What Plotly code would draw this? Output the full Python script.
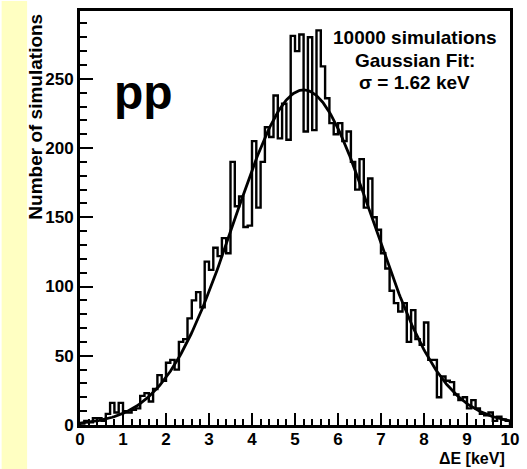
import numpy as np
import plotly.graph_objects as go

# ---- data ----
bin_low = 0.0
bin_high = 10.0
counts = [
    1, 3, 2, 5, 5, 3, 8, 16, 9, 16,
    10, 9, 11, 12, 21, 23, 17, 26, 36, 32,
    45, 47, 40, 60, 62, 77, 90, 96, 85, 118,
    112, 128, 122, 135, 124, 190, 158, 165, 143, 144,
    205, 157, 190, 215, 208, 238, 207, 232, 206, 281,
    270, 282, 212, 280, 213, 285, 259, 236, 218, 210,
    218, 205, 212, 190, 170, 192, 157, 178, 150, 141,
    124, 113, 97, 88, 82, 88, 60, 83, 62, 58,
    74, 47, 47, 20, 35, 32, 31, 22, 18, 20,
    12, 18, 12, 8, 7, 9, 3, 6, 4, 3,
]
fit_amplitude = 242.0
fit_mean = 5.2
fit_sigma = 1.62
x_ticks = [0, 1, 2, 3, 4, 5, 6, 7, 8, 9, 10]
y_ticks = [0, 50, 100, 150, 200, 250]
info_lines = ["10000 simulations", "Gaussian Fit:", "\u03c3 = 1.62 keV"]

# ---- geometry helpers ----
W, H = 527, 469
L, R, T, B = 80, 519, 10, 425


def px(xp):
    return (xp - L) / (R - L)


def py(yp):
    return (B - yp) / (B - T)


nb = len(counts)
edges = np.linspace(bin_low, bin_high, nb + 1)
xs = [edges[0]] + list(edges[:-1]) + [edges[-1], edges[-1]]
ys = [0] + list(counts) + [counts[-1], 0]

xf = np.linspace(bin_low, bin_high, 400)
yf = fit_amplitude * np.exp(-0.5 * ((xf - fit_mean) / fit_sigma) ** 2)

FONT = "Liberation Sans"

fig = go.Figure()
fig.add_trace(go.Scatter(x=xs, y=ys, mode="lines", line=dict(color="black", width=2.4, shape="hv"),
                         hoverinfo="skip", showlegend=False))
fig.add_trace(go.Scatter(x=xf, y=yf, mode="lines", line=dict(color="black", width=2.8),
                         hoverinfo="skip", showlegend=False))

fig.update_layout(
    width=W, height=H,
    margin=dict(l=L, r=W - R, t=T, b=H - B, pad=0),
    paper_bgcolor="white", plot_bgcolor="white",
    font=dict(family=FONT, color="black"),
    showlegend=False,
)
fig.update_xaxes(
    range=[bin_low, bin_high], tickvals=x_ticks, ticktext=[str(v) for v in x_ticks],
    ticks="inside", ticklen=12, tickwidth=1.5, tickcolor="black",
    minor=dict(ticks="inside", ticklen=6, tickwidth=1.5, tickcolor="black", dtick=0.2, tick0=0),
    showline=True, linewidth=3, linecolor="black", mirror=True,
    showgrid=False, zeroline=False, ticklabelstandoff=-3,
    tickfont=dict(family=FONT, size=17, color="black", weight="bold"),
)
fig.update_yaxes(
    range=[0, 299], tickvals=y_ticks, ticktext=[str(v) for v in y_ticks],
    ticks="inside", ticklen=13, tickwidth=1.5, tickcolor="black",
    minor=dict(ticks="inside", ticklen=7, tickwidth=1.5, tickcolor="black", dtick=10, tick0=0),
    showline=True, linewidth=3, linecolor="black", mirror=True,
    showgrid=False, zeroline=False,
    tickfont=dict(family=FONT, size=17, color="black", weight="bold"),
)

# yellow strip on left
fig.add_shape(type="rect", xref="paper", yref="paper",
              x0=px(0), x1=px(26), y0=py(H), y1=py(0),
              fillcolor="#FFFFC2", line=dict(width=0), layer="below")

ann = []
ann.append(dict(text="Number of simulations", x=px(35), y=py(116), xref="paper", yref="paper",
                textangle=-90, showarrow=False, xanchor="center", yanchor="middle",
                font=dict(family=FONT, size=19, color="black", weight="bold")))
ann.append(dict(text="\u0394E [keV]", x=px(516), y=py(459), xref="paper", yref="paper",
                showarrow=False, xanchor="right", yanchor="middle",
                font=dict(family=FONT, size=16, color="black", weight="bold")))
ann.append(dict(text="pp", x=px(145), y=py(92), xref="paper", yref="paper",
                showarrow=False, xanchor="center", yanchor="middle",
                font=dict(family=FONT, size=48, color="black", weight="bold")))
for i, (line, yy) in enumerate(zip(info_lines, [37, 60, 82])):
    ann.append(dict(text=line, x=px(422), y=py(yy), xref="paper", yref="paper",
                    showarrow=False, xanchor="center", yanchor="middle",
                    font=dict(family=FONT, size=19, color="black", weight="bold")))
fig.update_layout(annotations=ann)

fig.write_html("out.html")
